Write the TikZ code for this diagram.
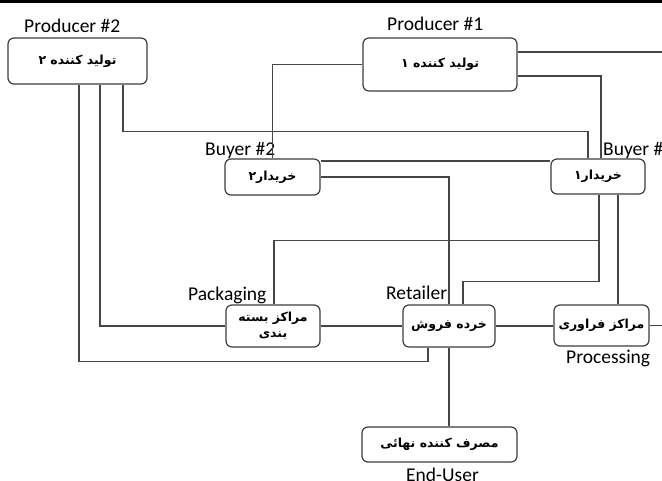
\documentclass[tikz,border=0pt]{standalone}
\usepackage{fontspec}
\setmainfont{Carlito}
\newfontfamily\fa[Script=Arabic]{DejaVu Sans}
\TeXXeTstate=1
\definecolor{boxline}{HTML}{3C3C3C}
\definecolor{wire}{HTML}{454545}
\begin{document}
\begin{tikzpicture}[x=1pt,y=-1pt,
  box/.style={draw=boxline,line width=1.2pt,rounded corners=6pt,fill=white,inner sep=0pt,
    font=\fa\bfseries\fontsize{12.5}{16}\selectfont,align=center},
  lbl/.style={anchor=base west,inner sep=0pt,font=\fontsize{19.5}{22}\selectfont},
  conn/.style={draw=wire,line width=1.1pt}]
\useasboundingbox (0,0) rectangle (662,480);
\clip (0,0) rectangle (662,480);
\fill[black] (0,0) rectangle (662,2.7);

% nodes
\node[box,minimum width=139pt,minimum height=46pt] (P2) at (77.5,61) {\beginR تولید کننده ۲\endR};
\node[box,minimum width=154pt,minimum height=53pt] (P1) at (440,64.5) {\beginR تولید کننده ۱\endR};
\node[box,minimum width=95pt,minimum height=36pt] (B2) at (272.5,177) {\beginR خریدار۲\endR};
\node[box,minimum width=94pt,minimum height=35pt] (B1) at (598,176.5) {\beginR خریدار۱\endR};
\node[box,minimum width=94pt,minimum height=42pt] (Pack) at (273,326) {\beginR مراکز بسته\endR\\\beginR بندی\endR};
\node[box,minimum width=92pt,minimum height=42pt] (Ret) at (449,326) {\beginR خرده فروش\endR};
\node[box,minimum width=95pt,minimum height=41pt] (Proc) at (601.5,325.5) {\beginR مراکز فراوری\endR};
\node[box,minimum width=155pt,minimum height=35pt] (End) at (439.5,444.5) {\beginR مصرف کننده نهائی\endR};

% labels
\node[lbl] (lP2) at (24,32) {Producer \#2};
\node[lbl] (lP1) at (387,30) {Producer \#1};
\node[lbl] (lB2) at (205,155) {Buyer \#2};
\node[lbl] (lB1) at (603,155) {Buyer \#1};
\node[lbl] (lPack) at (188,300) {Packaging};
\node[lbl] (lRet) at (386,299) {Retailer};
\node[lbl] (lProc) at (566,363) {Processing};
\node[lbl] (lEnd) at (406,481) {End-User};

% free ends
\coordinate (R1) at (662,52);
\coordinate (R9) at (662,325.5);

% connectors
\draw[conn] ([yshift=12.5pt]P1.east) -- (R1);
\draw[conn] ([yshift=-11.5pt]P1.east) -| ([xshift=3pt]B1.north);
\draw[conn] (P1.west) -| (B2.north);
\draw[conn] ([xshift=45.5pt]P2.south) -- ++(0,47) -| ([xshift=-10pt]B1.north);
\draw[conn] ([xshift=1.5pt]P2.south) -- ++(0,277) -| ([xshift=-21pt]Ret.south);
\draw[conn] ([xshift=22.5pt]P2.south) |- (Pack.west);
\draw[conn] (Pack.east) -- (Ret.west);
\draw[conn] (Ret.east) -- (Ret.east -| Proc.west);
\draw[conn] (Proc.east) -- (R9);
\draw[conn] ([yshift=16pt]B2.east) -- ([yshift=16pt]B2.east -| B1.west);
\draw[conn] (B2.east) -| (Ret.north);
\draw[conn] ([xshift=1pt]B1.south) -- ++(0,46) -| ([xshift=1pt]Pack.north);
\draw[conn] ([xshift=1pt]B1.south) -- ++(0,87) -| ([xshift=14pt]Ret.north);
\draw[conn] ([xshift=20pt]B1.south) -- ([xshift=20pt]B1.south |- Proc.north);
\draw[conn] (Ret.south) -- (Ret.south |- End.north);
\end{tikzpicture}
\end{document}
